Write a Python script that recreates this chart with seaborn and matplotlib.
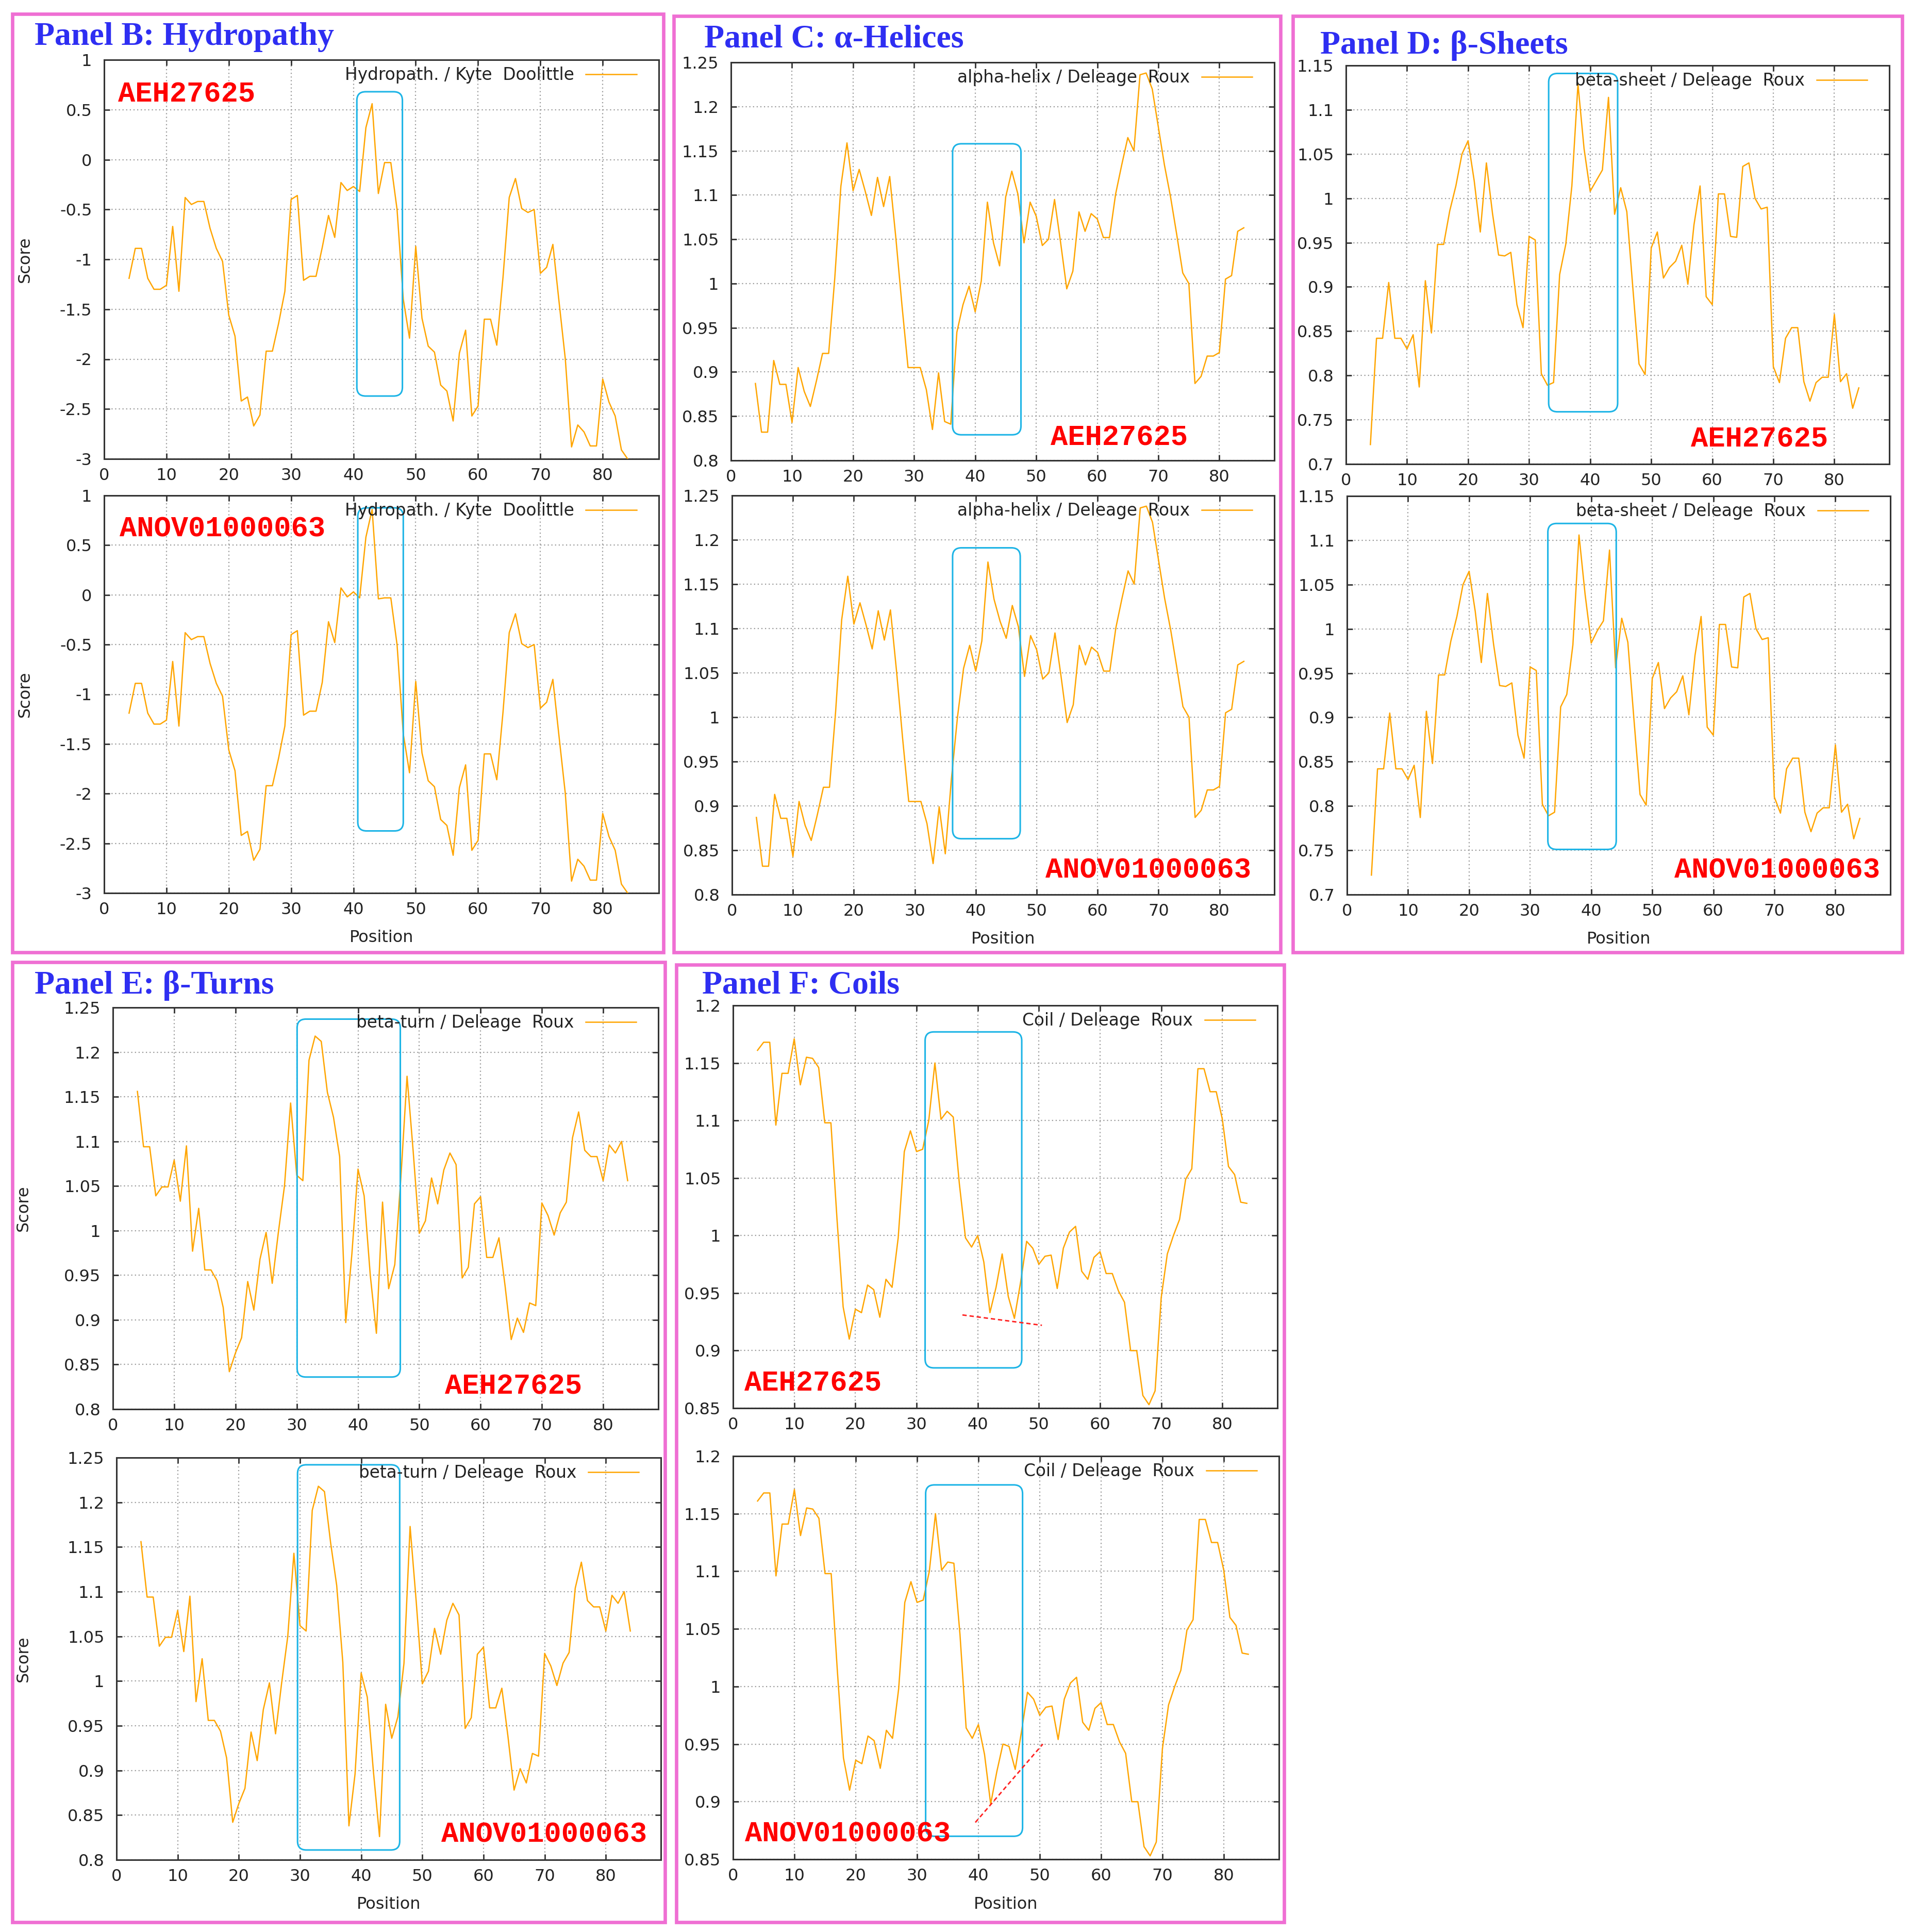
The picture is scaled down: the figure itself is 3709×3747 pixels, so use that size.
import matplotlib.pyplot as plt
import matplotlib.patches as mpatches
from matplotlib.ticker import MultipleLocator, FuncFormatter
import seaborn as sns

# residue positions (window centres)
positions = list(range(4, 85))

hydro_aeh = [-1.19, -0.89, -0.89, -1.19, -1.30, -1.30, -1.26, -0.67, -1.32, -0.38,
             -0.45, -0.42, -0.42, -0.69, -0.89, -1.02, -1.56, -1.77, -2.42, -2.38,
             -2.67, -2.56, -1.92, -1.92, -1.64, -1.32, -0.40, -0.36, -1.21, -1.17,
             -1.17, -0.88, -0.56, -0.78, -0.23, -0.31, -0.27, -0.32, 0.32, 0.56,
             -0.34, -0.03, -0.03, -0.50, -1.40, -1.79, -0.87, -1.59, -1.87, -1.93,
             -2.26, -2.32, -2.62, -1.94, -1.71, -2.57, -2.47, -1.60, -1.60, -1.86,
             -1.18, -0.38, -0.19, -0.49, -0.53, -0.50, -1.14, -1.08, -0.85, -1.43,
             -2.00, -2.88, -2.66, -2.73, -2.87, -2.87, -2.20, -2.43, -2.57, -2.91,
             -3.00]
hydro_anov = [-1.19, -0.89, -0.89, -1.19, -1.30, -1.30, -1.26, -0.67, -1.32, -0.38,
              -0.45, -0.42, -0.42, -0.69, -0.89, -1.02, -1.56, -1.77, -2.42, -2.38,
              -2.67, -2.56, -1.92, -1.92, -1.64, -1.32, -0.40, -0.36, -1.21, -1.17,
              -1.17, -0.88, -0.27, -0.48, 0.07, -0.02, 0.03, -0.03, 0.58, 0.86,
              -0.04, -0.03, -0.03, -0.50, -1.40, -1.79, -0.87, -1.59, -1.87, -1.93,
              -2.26, -2.32, -2.62, -1.94, -1.71, -2.57, -2.47, -1.60, -1.60, -1.86,
              -1.18, -0.38, -0.19, -0.49, -0.53, -0.50, -1.14, -1.08, -0.85, -1.43,
              -2.00, -2.88, -2.66, -2.73, -2.87, -2.87, -2.20, -2.43, -2.57, -2.91,
              -3.00]

helix_aeh = [0.887, 0.832, 0.832, 0.913, 0.886, 0.886, 0.843, 0.905, 0.878, 0.861,
             0.890, 0.921, 0.921, 1.006, 1.110, 1.159, 1.105, 1.129, 1.104, 1.077,
             1.120, 1.087, 1.121, 1.052, 0.976, 0.905, 0.905, 0.905, 0.880, 0.835,
             0.899, 0.844, 0.841, 0.945, 0.976, 0.997, 0.968, 1.003, 1.092, 1.046,
             1.020, 1.098, 1.127, 1.101, 1.046, 1.092, 1.076, 1.043, 1.050, 1.095,
             1.046, 0.994, 1.014, 1.081, 1.059, 1.079, 1.073, 1.052, 1.052, 1.101,
             1.134, 1.165, 1.150, 1.236, 1.238, 1.220, 1.177, 1.134, 1.098, 1.056,
             1.012, 1.000, 0.887, 0.895, 0.918, 0.918, 0.922, 1.005, 1.009, 1.059,
             1.063]
helix_anov = [0.887, 0.832, 0.832, 0.913, 0.886, 0.886, 0.843, 0.905, 0.878, 0.861,
              0.890, 0.921, 0.921, 1.006, 1.110, 1.159, 1.105, 1.129, 1.104, 1.077,
              1.120, 1.087, 1.121, 1.052, 0.976, 0.905, 0.905, 0.905, 0.880, 0.835,
              0.899, 0.846, 0.930, 1.000, 1.055, 1.081, 1.052, 1.086, 1.175, 1.133,
              1.108, 1.089, 1.126, 1.102, 1.046, 1.092, 1.076, 1.043, 1.050, 1.095,
              1.046, 0.994, 1.014, 1.081, 1.059, 1.079, 1.073, 1.052, 1.052, 1.101,
              1.134, 1.165, 1.150, 1.236, 1.238, 1.220, 1.177, 1.134, 1.098, 1.056,
              1.012, 1.000, 0.887, 0.895, 0.918, 0.918, 0.922, 1.005, 1.009, 1.059,
              1.063]

sheet_aeh = [0.722, 0.842, 0.842, 0.905, 0.842, 0.842, 0.830, 0.846, 0.787, 0.907,
             0.848, 0.948, 0.948, 0.986, 1.014, 1.050, 1.065, 1.020, 0.962, 1.040,
             0.983, 0.936, 0.935, 0.939, 0.880, 0.854, 0.957, 0.953, 0.802, 0.789,
             0.792, 0.914, 0.948, 1.014, 1.129, 1.056, 1.008, 1.020, 1.032, 1.114,
             0.982, 1.012, 0.985, 0.898, 0.813, 0.801, 0.944, 0.962, 0.910, 0.922,
             0.929, 0.947, 0.903, 0.970, 1.014, 0.889, 0.880, 1.005, 1.005, 0.957,
             0.956, 1.036, 1.040, 1.000, 0.988, 0.990, 0.810, 0.792, 0.842, 0.854,
             0.854, 0.793, 0.771, 0.792, 0.798, 0.798, 0.869, 0.793, 0.802, 0.763,
             0.786]
sheet_anov = [0.722, 0.842, 0.842, 0.905, 0.842, 0.842, 0.830, 0.846, 0.787, 0.907,
              0.848, 0.948, 0.948, 0.986, 1.014, 1.050, 1.065, 1.020, 0.962, 1.040,
              0.983, 0.936, 0.935, 0.939, 0.880, 0.854, 0.957, 0.953, 0.802, 0.789,
              0.793, 0.912, 0.926, 0.982, 1.106, 1.039, 0.984, 0.998, 1.009, 1.089,
              0.956, 1.012, 0.985, 0.898, 0.813, 0.801, 0.944, 0.962, 0.910, 0.922,
              0.929, 0.947, 0.903, 0.970, 1.014, 0.889, 0.880, 1.005, 1.005, 0.957,
              0.956, 1.036, 1.040, 1.000, 0.988, 0.990, 0.810, 0.792, 0.842, 0.854,
              0.854, 0.793, 0.771, 0.792, 0.798, 0.798, 0.869, 0.793, 0.802, 0.763,
              0.786]

turn_aeh = [1.156, 1.094, 1.094, 1.039, 1.049, 1.049, 1.079, 1.033, 1.095, 0.977,
            1.025, 0.956, 0.956, 0.944, 0.914, 0.842, 0.863, 0.880, 0.943, 0.911,
            0.968, 0.998, 0.941, 0.998, 1.050, 1.143, 1.062, 1.056, 1.191, 1.218,
            1.212, 1.155, 1.127, 1.083, 0.897, 0.974, 1.069, 1.039, 0.950, 0.885,
            1.032, 0.935, 0.962, 1.060, 1.173, 1.089, 0.997, 1.011, 1.059, 1.030,
            1.068, 1.087, 1.074, 0.947, 0.959, 1.030, 1.038, 0.970, 0.970, 0.992,
            0.938, 0.878, 0.902, 0.886, 0.919, 0.916, 1.031, 1.017, 0.995, 1.020,
            1.032, 1.104, 1.133, 1.090, 1.083, 1.083, 1.056, 1.096, 1.087, 1.100,
            1.056]
turn_anov = [1.156, 1.094, 1.094, 1.039, 1.049, 1.049, 1.079, 1.033, 1.095, 0.977,
             1.025, 0.956, 0.956, 0.944, 0.914, 0.842, 0.863, 0.880, 0.943, 0.911,
             0.968, 0.998, 0.941, 0.998, 1.050, 1.143, 1.062, 1.056, 1.191, 1.218,
             1.212, 1.155, 1.107, 1.021, 0.838, 0.896, 1.009, 0.982, 0.899, 0.826,
             0.974, 0.936, 0.960, 1.020, 1.173, 1.089, 0.997, 1.011, 1.059, 1.030,
             1.068, 1.087, 1.074, 0.947, 0.959, 1.030, 1.038, 0.970, 0.970, 0.992,
             0.938, 0.878, 0.902, 0.886, 0.919, 0.916, 1.031, 1.017, 0.995, 1.020,
             1.032, 1.104, 1.133, 1.090, 1.083, 1.083, 1.056, 1.096, 1.087, 1.100,
             1.056]

coil_aeh = [1.161, 1.168, 1.168, 1.096, 1.141, 1.141, 1.171, 1.131, 1.155, 1.154,
            1.146, 1.098, 1.098, 1.014, 0.938, 0.910, 0.936, 0.933, 0.957, 0.953,
            0.929, 0.962, 0.955, 0.998, 1.073, 1.091, 1.073, 1.075, 1.100, 1.150,
            1.101, 1.108, 1.103, 1.045, 0.998, 0.990, 1.000, 0.977, 0.933, 0.955,
            0.984, 0.947, 0.928, 0.959, 0.995, 0.989, 0.975, 0.982, 0.983, 0.954,
            0.989, 1.003, 1.008, 0.969, 0.962, 0.981, 0.986, 0.967, 0.967, 0.952,
            0.942, 0.900, 0.900, 0.861, 0.853, 0.865, 0.946, 0.984, 1.000, 1.014,
            1.049, 1.058, 1.145, 1.145, 1.125, 1.125, 1.101, 1.060, 1.053, 1.029,
            1.028]
coil_anov = [1.161, 1.168, 1.168, 1.096, 1.141, 1.141, 1.171, 1.131, 1.155, 1.154,
             1.146, 1.098, 1.098, 1.014, 0.938, 0.910, 0.936, 0.933, 0.957, 0.953,
             0.929, 0.962, 0.955, 0.998, 1.073, 1.091, 1.073, 1.075, 1.100, 1.150,
             1.101, 1.108, 1.107, 1.045, 0.964, 0.955, 0.967, 0.941, 0.898, 0.926,
             0.950, 0.948, 0.928, 0.960, 0.995, 0.989, 0.975, 0.982, 0.983, 0.954,
             0.989, 1.003, 1.008, 0.969, 0.962, 0.981, 0.986, 0.967, 0.967, 0.952,
             0.942, 0.900, 0.900, 0.861, 0.853, 0.865, 0.946, 0.984, 1.000, 1.014,
             1.049, 1.058, 1.145, 1.145, 1.125, 1.125, 1.101, 1.060, 1.053, 1.029,
             1.028]

# highlighted region per plot: x from, x to, y from, y to
hydro_box_aeh = [40.55, 47.86, -2.37, 0.68]
hydro_box_anov = [40.7, 48.0, -2.375, 0.876]
helix_box_aeh = [36.3, 47.5, 0.829, 1.158]
helix_box_anov = [36.2, 47.3, 0.863, 1.191]
sheet_box_aeh = [33.2, 44.5, 0.759, 1.141]
sheet_box_anov = [32.9, 44.1, 0.751, 1.119]
turn_box_aeh = [30.06, 46.9, 0.836, 1.237]
turn_box_anov = [29.6, 46.3, 0.811, 1.242]
coil_box_aeh = [31.4, 47.2, 0.885, 1.177]
coil_box_anov = [31.4, 47.2, 0.870, 1.175]

# red trend marks in the coil plots
coil_mark_aeh = ([37.5, 50.5], [0.931, 0.922])
coil_mark_anov = ([39.5, 50.5], [0.882, 0.950])

seq_names = ["AEH27625", "ANOV01000063"]

ORANGE = "#ffa500"
BOX_BLUE = "#1db4e6"
PINK = "#ef6fd3"
TITLE_BLUE = "#2e2ef2"

W, H, DPI = 3709, 3747, 200
fig = plt.figure(figsize=(W / DPI, H / DPI), dpi=DPI)
fig.patch.set_facecolor("white")


def px_axes(l, t, r, b):
    return fig.add_axes([l / W, 1 - b / H, (r - l) / W, (b - t) / H])


def fmt(v, _):
    return f"{round(v, 4) + 0.0:g}"


def draw_profile(ax, values, legend_text, ylim, ystep, box):
    sns.lineplot(x=positions, y=values, ax=ax, color=ORANGE, linewidth=0.9,
                 label=legend_text, zorder=4)
    ax.set_xlim(0, 89)
    ax.set_ylim(*ylim)
    ax.xaxis.set_major_locator(MultipleLocator(10))
    ax.yaxis.set_major_locator(MultipleLocator(ystep))
    ax.yaxis.set_major_formatter(FuncFormatter(fmt))
    ax.set_axisbelow(True)
    ax.grid(True, color="#9a9a9a", linestyle=(0, (1, 2.2)), linewidth=0.8)
    ax.tick_params(direction="in", top=True, right=True, length=4, width=1.0,
                   labelsize=11.5, labelcolor="#222222", color="#333333")
    ax.tick_params(axis="y", pad=8.5)
    ax.tick_params(axis="x", pad=6)
    for s in ax.spines.values():
        s.set_linewidth(1.1)
        s.set_color("#333333")
    ax.set_xlabel("")
    ax.set_ylabel("")
    leg = ax.legend(loc="upper right", bbox_to_anchor=(0.972, 1.0), frameon=False,
                    markerfirst=False, fontsize=11.8, handlelength=3.0,
                    handletextpad=0.7, borderpad=0.2, borderaxespad=0.2)
    for t in leg.get_texts():
        t.set_color("#222222")

    # rounded highlight box, same corner radius in x and y pixels
    pos = ax.get_position()
    wpx, hpx = pos.width * W, pos.height * H
    xr = 89.0
    yr = ylim[1] - ylim[0]
    aspect = (yr / hpx) / (xr / wpx)
    rad = 17 * xr / wpx
    x0, x1, y0, y1 = box
    patch = mpatches.FancyBboxPatch((x0, y0), x1 - x0, y1 - y0,
                                    boxstyle=f"round,pad=0,rounding_size={rad}",
                                    mutation_aspect=aspect, fill=False,
                                    edgecolor=BOX_BLUE, linewidth=1.1,
                                    transform=ax.transData, clip_on=False, zorder=5)
    ax.add_patch(patch)


panels = [
    dict(title="Panel B: Hydropathy", title_xy=(67, 87), frame=(24, 27, 1287, 1847),
         legend="Hydropath. / Kyte  Doolittle", ylim=(-3, 1), ystep=0.5, score_x=48,
         axes=[(202, 116, 1278, 890), (202, 961, 1278, 1732)],
         series=[hydro_aeh, hydro_anov], boxes=[hydro_box_aeh, hydro_box_anov],
         labels=[(229, 183), (232, 1026)], marks=None),
    dict(title="Panel C: α-Helices", title_xy=(1366, 92), frame=(1307, 31, 2484, 1847),
         legend="alpha-helix / Deleage  Roux", ylim=(0.8, 1.25), ystep=0.05, score_x=None,
         axes=[(1418, 121, 2472, 893), (1420, 961, 2472, 1735)],
         series=[helix_aeh, helix_anov], boxes=[helix_box_aeh, helix_box_anov],
         labels=[(2038, 849), (2028, 1688)], marks=None),
    dict(title="Panel D: β-Sheets", title_xy=(2561, 104), frame=(2508, 31, 3690, 1847),
         legend="beta-sheet / Deleage  Roux", ylim=(0.7, 1.15), ystep=0.05, score_x=None,
         axes=[(2611, 127, 3665, 900), (2613, 962, 3667, 1735)],
         series=[sheet_aeh, sheet_anov], boxes=[sheet_box_aeh, sheet_box_anov],
         labels=[(3280, 852), (3248, 1688)], marks=None),
    dict(title="Panel E: β-Turns", title_xy=(67, 1927), frame=(24, 1866, 1290, 3728),
         legend="beta-turn / Deleage  Roux", ylim=(0.8, 1.25), ystep=0.05, score_x=45,
         axes=[(219, 1954, 1277, 2733), (226, 2827, 1282, 3607)],
         series=[turn_aeh, turn_anov], boxes=[turn_box_aeh, turn_box_anov],
         labels=[(863, 2689), (856, 3558)], marks=None),
    dict(title="Panel F: Coils", title_xy=(1362, 1927), frame=(1312, 1871, 2491, 3728),
         legend="Coil / Deleage  Roux", ylim=(0.85, 1.2), ystep=0.05, score_x=None,
         axes=[(1422, 1950, 2478, 2731), (1422, 2824, 2481, 3606)],
         series=[coil_aeh, coil_anov], boxes=[coil_box_aeh, coil_box_anov],
         labels=[(1444, 2683), (1445, 3557)], marks=[coil_mark_aeh, coil_mark_anov]),
]

for p in panels:
    l, t, r, b = p["frame"]
    fig.add_artist(mpatches.Rectangle((l / W, 1 - b / H), (r - l) / W, (b - t) / H,
                                      transform=fig.transFigure, fill=False,
                                      edgecolor=PINK, linewidth=2.4))
    fig.text(p["title_xy"][0] / W, 1 - p["title_xy"][1] / H, p["title"],
             family="Liberation Serif", weight="bold", size=23, color=TITLE_BLUE,
             ha="left", va="baseline")
    for i in range(2):
        box_px = p["axes"][i]
        ax = px_axes(*box_px)
        draw_profile(ax, p["series"][i], p["legend"], p["ylim"], p["ystep"], p["boxes"][i])
        if p["marks"] is not None:
            mx, my = p["marks"][i]
            ax.plot(mx, my, color="#ff2020", linewidth=1.0, linestyle=(0, (3, 2)), zorder=6)
        wpx = box_px[2] - box_px[0]
        hpx = box_px[3] - box_px[1]
        if p["score_x"] is not None:
            ax.set_ylabel("Score", fontsize=11.5, color="#222222", va="center")
            ax.yaxis.set_label_coords((p["score_x"] - box_px[0]) / wpx, 0.5)
        if i == 1:
            ax.set_xlabel("Position", fontsize=11.5, color="#222222", va="center")
            ax.xaxis.set_label_coords(0.5, -87 / hpx)
        lx, ly = p["labels"][i]
        fig.text(lx / W, 1 - ly / H, seq_names[i], family="Liberation Mono",
                 weight="bold", size=20, color="#ff0000", ha="left", va="center")

fig.savefig("out.png", dpi=DPI, facecolor="white")
